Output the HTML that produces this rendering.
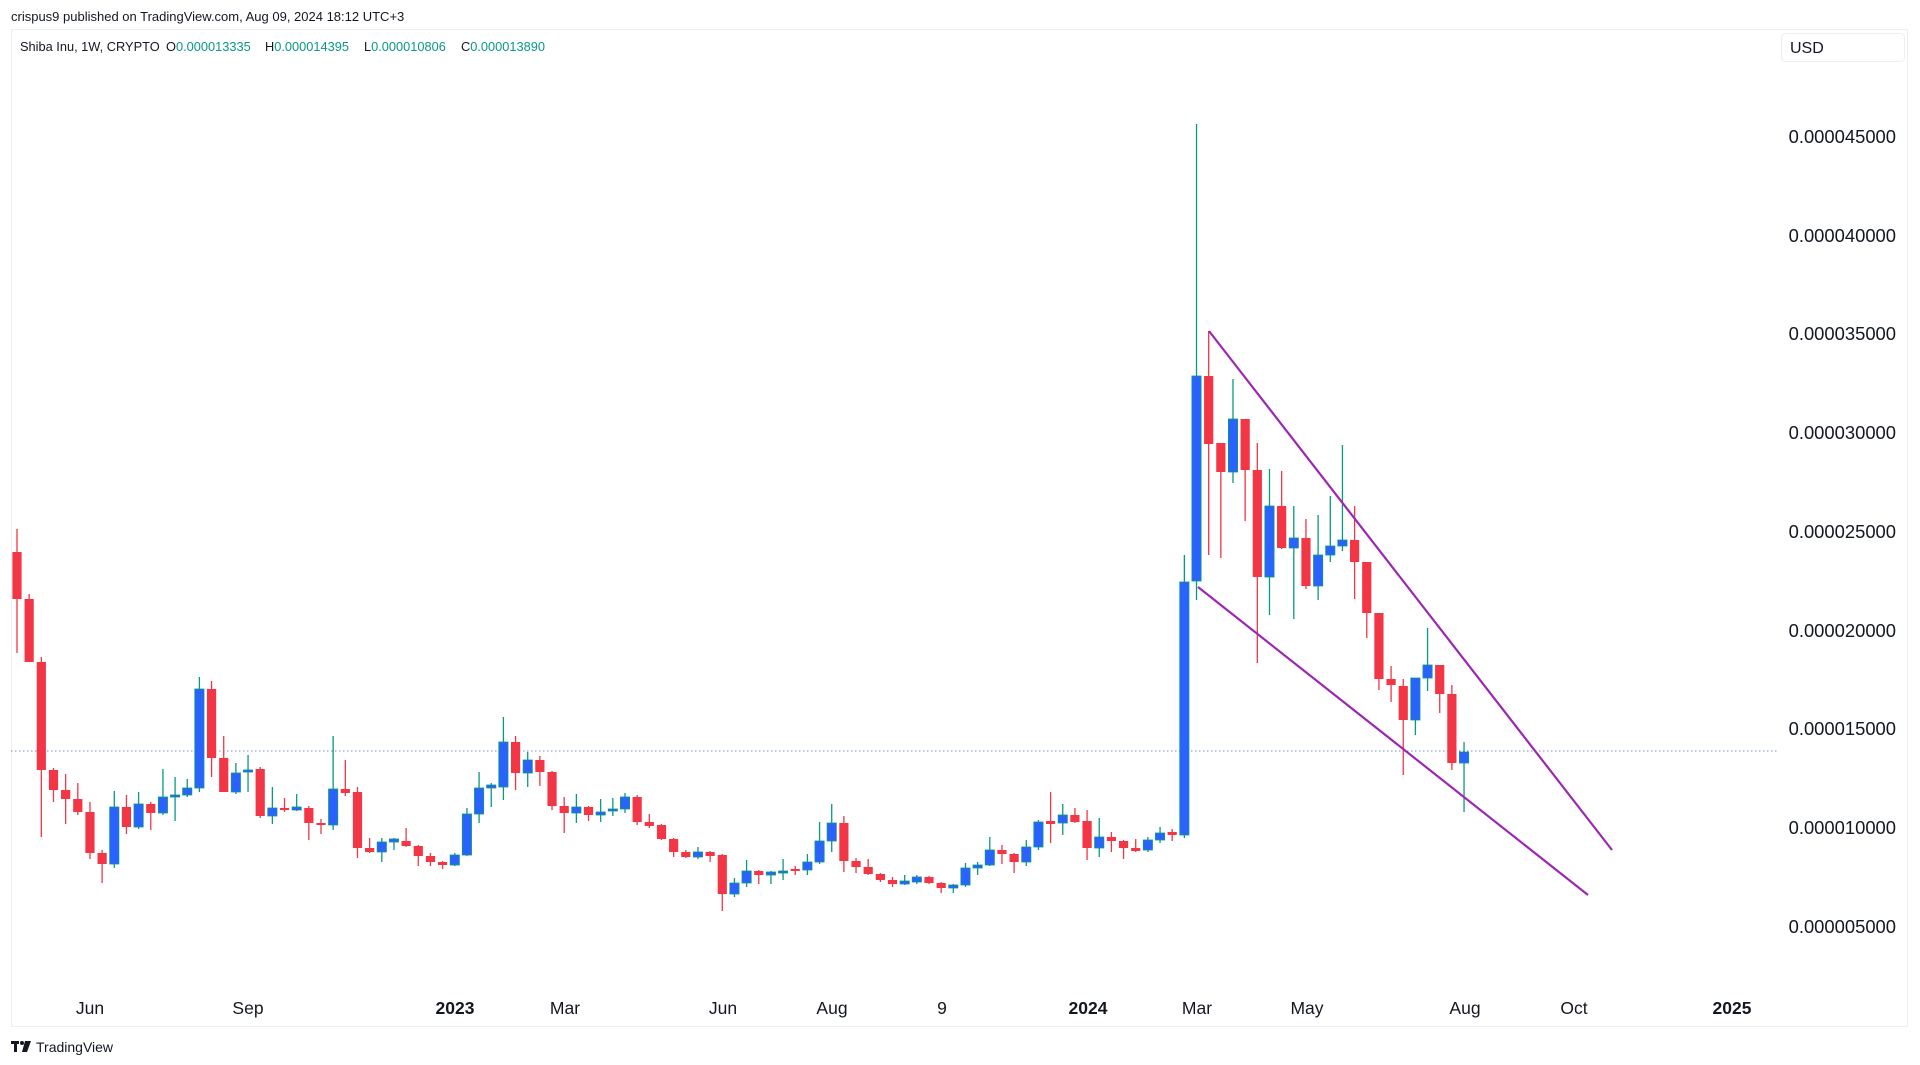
<!DOCTYPE html>
<html><head><meta charset="utf-8"><style>
html,body{margin:0;padding:0;background:#fff;}
svg{display:block;}
text{font-family:"Liberation Sans",sans-serif;}
</style></head><body>
<svg id="s" width="1920" height="1065" viewBox="0 0 1920 1065" xmlns="http://www.w3.org/2000/svg">
<rect width="1920" height="1065" fill="#fff"/>
<text x="11" y="21" font-size="13" fill="#131722">crispus9 published on TradingView.com, Aug 09, 2024 18:12 UTC+3</text>
<rect x="11.5" y="29.5" width="1896" height="997" fill="none" stroke="#eceef2" stroke-width="1"/>
<g font-size="12.8" fill="#131722">
<text x="20" y="51">Shiba Inu, 1W, CRYPTO</text>
<text x="166" y="51">O<tspan fill="#089981">0.000013335</tspan></text>
<text x="265" y="51">H<tspan fill="#089981">0.000014395</tspan></text>
<text x="364" y="51">L<tspan fill="#089981">0.000010806</tspan></text>
<text x="461" y="51">C<tspan fill="#089981">0.000013890</tspan></text>
</g>
<rect x="1781.5" y="33.5" width="123" height="28" rx="4" fill="#fff" stroke="#eceef2"/>
<text x="1790" y="53" font-size="16" fill="#131722">USD</text>
<line x1="11" y1="751" x2="1778" y2="751" stroke="#6a8fbf" stroke-width="1" stroke-dasharray="1.5,2.5"/>
<g id="c"></g>
<line x1="1209" y1="331" x2="1612" y2="850" stroke="#9c27b0" stroke-width="2.2"/>
<line x1="1198" y1="587" x2="1588" y2="895" stroke="#9c27b0" stroke-width="2.2"/>
<g font-size="18.4" fill="#131722" text-anchor="end">
<text x="1896" y="143">0.000045000</text>
<text x="1896" y="242">0.000040000</text>
<text x="1896" y="340">0.000035000</text>
<text x="1896" y="439">0.000030000</text>
<text x="1896" y="538">0.000025000</text>
<text x="1896" y="637">0.000020000</text>
<text x="1896" y="735">0.000015000</text>
<text x="1896" y="834">0.000010000</text>
<text x="1896" y="933">0.000005000</text>
</g>
<g font-size="17.5" fill="#131722" text-anchor="middle">
<text x="90" y="1014">Jun</text>
<text x="248" y="1014">Sep</text>
<text x="455" y="1014" font-weight="bold">2023</text>
<text x="565" y="1014">Mar</text>
<text x="723" y="1014">Jun</text>
<text x="832" y="1014">Aug</text>
<text x="942" y="1014">9</text>
<text x="1088" y="1014" font-weight="bold">2024</text>
<text x="1197" y="1014">Mar</text>
<text x="1307" y="1014">May</text>
<text x="1465" y="1014">Aug</text>
<text x="1574" y="1014">Oct</text>
<text x="1732" y="1014" font-weight="bold">2025</text>
</g>
<g fill="#131722">
<rect x="11" y="1041" width="8" height="3"/><rect x="14" y="1041" width="3" height="11"/>
<circle cx="22" cy="1043" r="2"/>
<polygon points="25,1041 31,1041 27,1052 22,1052"/>
</g>
<text x="36" y="1052" font-size="14" fill="#131722">TradingView</text>
</svg>
<script>
var d=[
[552,599,529,653],[599,662,594,662],[662,770,657,837],[770,790,768,802],[790,799,774,824],[799,812,783,815],[812,853,802,859],[853,864,850,883],
[864,807,791,868],[807,827,795,834],[827,804,792,829],[804,813,802,830],[813,797,769,815],[797,795,777,821],[795,788,779,797],[788,689,677,792],
[689,758,681,777],[758,792,736,792],[792,773,763,794],[772,770,755,792],[769,816,767,818],[816,808,787,824],[808,810,798,812],[809,808,794,811],
[808,823,806,840],[823,825,819,834],[825,789,736,830],[789,793,760,796],[792,848,787,858],[848,852,838,853],[852,842,838,862],[841,840,838,850],
[841,846,828,847],[846,856,845,866],[856,862,853,866],[862,865,861,869],[865,855,853,866],[855,814,808,856],[814,788,772,823],[787,786,783,807],
[787,742,717,800],[742,773,736,790],[773,760,752,787],[760,772,756,786],[772,806,771,810],[806,813,797,833],[813,807,794,823],[807,815,806,821],
[815,812,799,822],[811,809,798,816],[809,797,793,813],[797,822,795,825],[822,826,814,828],[825,839,824,840],[839,852,838,857],[852,857,850,858],
[857,852,847,859],[852,856,851,862],[855,894,854,911],[894,883,878,897],[883,871,860,887],[871,875,870,884],[874,873,871,884],[873,871,859,880],
[869,871,866,875],[870,862,854,875],[862,841,822,864],[841,823,804,852],[823,861,816,872],[861,867,858,873],[867,874,859,875],[874,880,873,882],
[880,884,877,887],[883,882,875,885],[882,877,875,884],[877,883,876,884],[883,888,882,893],[888,885,884,893],[885,868,863,887],[868,865,862,875],
[865,850,837,866],[850,854,845,864],[854,862,853,873],[862,847,840,866],[847,822,820,850],[822,823,792,843],[823,815,804,835],[815,822,808,823],
[821,848,810,860],[848,837,818,857],[837,841,832,852],[841,848,840,859],[848,851,839,852],[850,840,837,852],[840,833,827,843],[833,834,829,841],
[835,582,555,838],[581,376,124,600],[376,444,331,555],[443,472,443,558],[472,419,379,483],[419,470,419,521],[470,577,443,663],[577,506,469,615],
[506,548,471,549],[548,538,506,619],[538,586,519,589],[586,555,515,600],[555,546,496,562],[546,540,445,551],[540,562,506,599],[562,613,562,638],
[613,679,613,690],[679,685,666,702],[686,720,679,775],[720,678,678,735],[678,665,628,691],[665,694,665,713],[694,763,685,770],[763,752,742,812]];
var g=document.getElementById('c'),h='';
for(var i=0;i<d.length;i++){var x=17+i*12.16,o=d[i][0],c=d[i][1],hi=d[i][2],lo=d[i][3];
var up=c<o;var body=up?'#2962ff':'#f23645',wk=up?'#089981':'#f23645';
var t=Math.min(o,c),b=Math.max(o,c);if(b-t<2){t-=1;b+=1;}
h+='<line x1="'+x+'" y1="'+hi+'" x2="'+x+'" y2="'+lo+'" stroke="'+wk+'" stroke-width="1.3"/>';
h+='<rect x="'+(x-4.6)+'" y="'+t+'" width="9.2" height="'+(b-t)+'" fill="'+body+'"'+(up?' stroke="#089981" stroke-width="0.8"':'')+'/>';}
g.innerHTML=h;
</script>
</body></html>
